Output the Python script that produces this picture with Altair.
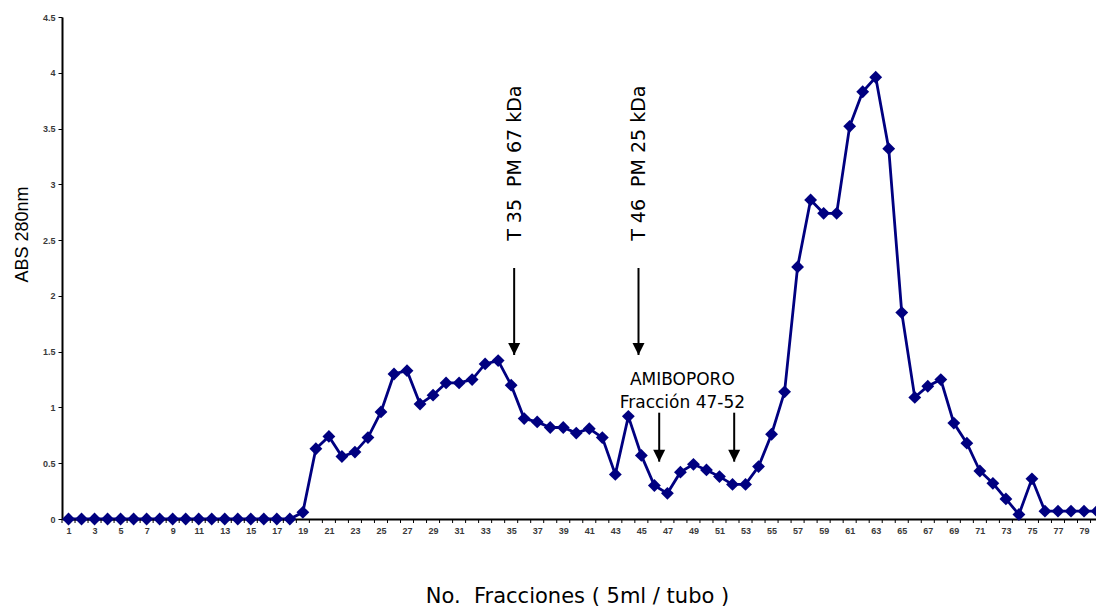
import altair as alt
import pandas as pd

# ---- data ----
fractions = list(range(1, 81))
absorbance = [
    0, 0, 0, 0, 0, 0, 0, 0, 0, 0,
    0, 0, 0, 0, 0, 0, 0, 0, 0.06, 0.63,
    0.74, 0.56, 0.60, 0.73, 0.96, 1.30, 1.33, 1.03, 1.11, 1.22,
    1.22, 1.25, 1.39, 1.42, 1.20, 0.90, 0.87, 0.82, 0.82, 0.77,
    0.81, 0.73, 0.40, 0.92, 0.57, 0.30, 0.23, 0.42, 0.49, 0.44,
    0.38, 0.31, 0.31, 0.47, 0.76, 1.14, 2.26, 2.86, 2.74, 2.74,
    3.52, 3.83, 3.96, 3.32, 1.85, 1.09, 1.19, 1.25, 0.86, 0.68,
    0.43, 0.32, 0.18, 0.04, 0.36, 0.07, 0.07, 0.07, 0.07, 0.07,
]
x_labels = list(range(1, 80, 2))
y_ticks = [0, 0.5, 1, 1.5, 2, 2.5, 3, 3.5, 4, 4.5]
tick_bounds = [k + 0.5 for k in range(0, 80)]

NB = "\u00a0"
marker_texts = ["T 35 " + NB + "PM 67 kDa", "T 46 " + NB + "PM 25 kDa"]
marker_x = [35.3, 44.79]
marker_y = [3.19, 3.19]

arrow_x = [35.23, 44.78, 46.37, 52.13]
arrow_top = [2.25, 2.25, 0.953, 0.953]
arrow_tip = [1.47, 1.47, 0.514, 0.514]

note_lines = ["AMIBOPORO", "Fracción 47-52"]
note_x = [48.15, 48.15]
note_y = [1.246, 1.037]

x_title = "No. " + NB + "Fracciones ( 5ml / tubo )"
y_title = "ABS 280nm"

NAVY = "#000080"

df = pd.DataFrame({"x": fractions, "y": absorbance})
ticks_df = pd.DataFrame({"x": tick_bounds})
markers_df = pd.DataFrame({"x": marker_x, "y": marker_y, "t": marker_texts})
arrows_df = pd.DataFrame({"x": arrow_x, "y": arrow_top, "y2": arrow_tip})
notes_df = pd.DataFrame({"x": note_x, "y": note_y, "t": note_lines})

xscale = alt.Scale(domain=[0.5, 79.92], nice=False, zero=False)
yscale = alt.Scale(domain=[0, 4.5], nice=False, zero=True)

x_axis = alt.Axis(
    values=x_labels, format="d", ticks=False, tickSize=0, grid=False,
    labelFont="Liberation Sans", labelFontSize=9, labelFontWeight="bold",
    labelColor="#3a3a3a", labelPadding=7, labelFlush=False, labelOverlap=False,
    domainColor="black", domainWidth=2,
    title=x_title, titleFont="DejaVu Sans",
    titleFontSize=21, titleFontWeight="normal", titleColor="black",
    titleX=515, titleY=77, titleAlign="center", titleBaseline="middle",
)
y_axis = alt.Axis(
    values=y_ticks, format="~g", tickSize=4, tickColor="black", tickWidth=1,
    grid=False, labelFont="Liberation Sans", labelFontSize=9,
    labelFontWeight="bold", labelColor="#3a3a3a", labelPadding=3,
    domainColor="black", domainWidth=2,
    title=y_title, titleFont="Liberation Sans", titleFontSize=18,
    titleFontWeight="normal", titleColor="black",
    titleX=-40, titleY=217, titleAlign="center", titleBaseline="middle",
    titleAngle=270,
)

line = alt.Chart(df).mark_line(
    color=NAVY, strokeWidth=2.8,
    point=alt.OverlayMarkDef(shape="diamond", size=165, filled=True, color=NAVY),
).encode(
    x=alt.X("x:Q", scale=xscale, axis=x_axis),
    y=alt.Y("y:Q", scale=yscale, axis=y_axis),
)

xticks = alt.Chart(ticks_df).mark_rule(color="black", strokeWidth=1).encode(
    x=alt.X("x:Q", scale=xscale, axis=x_axis),
    y=alt.value(502), y2=alt.value(506),
)

markers = alt.Chart(markers_df).mark_text(
    angle=270, font="DejaVu Sans", fontSize=19, align="center",
    baseline="middle", color="black",
).encode(
    x=alt.X("x:Q", scale=xscale, axis=x_axis),
    y=alt.Y("y:Q", scale=yscale, axis=y_axis),
    text="t:N",
)

shafts = alt.Chart(arrows_df).mark_rule(color="black", strokeWidth=2).encode(
    x=alt.X("x:Q", scale=xscale, axis=x_axis),
    y=alt.Y("y:Q", scale=yscale, axis=y_axis),
    y2="y2:Q",
)

heads = alt.Chart(arrows_df).mark_point(
    shape="M-1,-2L1,-2L0,0Z", size=144, filled=True, color="black",
    opacity=1, strokeWidth=0,
).encode(
    x=alt.X("x:Q", scale=xscale, axis=x_axis),
    y=alt.Y("y2:Q", scale=yscale, axis=y_axis),
)

notes = alt.Chart(notes_df).mark_text(
    font="DejaVu Sans", fontSize=17, align="center", baseline="middle",
    color="black",
).encode(
    x=alt.X("x:Q", scale=xscale, axis=x_axis),
    y=alt.Y("y:Q", scale=yscale, axis=y_axis),
    text="t:N",
)

chart = alt.layer(line, xticks, markers, shafts, heads, notes).properties(
    width=1034, height=502,
    padding={"left": 62, "top": 17, "right": 0, "bottom": 88},
    autosize=alt.AutoSizeParams(type="none"),
    background="white",
).configure_view(stroke=None)

chart.save("out.html", embed_options={"renderer": "svg", "actions": False})
